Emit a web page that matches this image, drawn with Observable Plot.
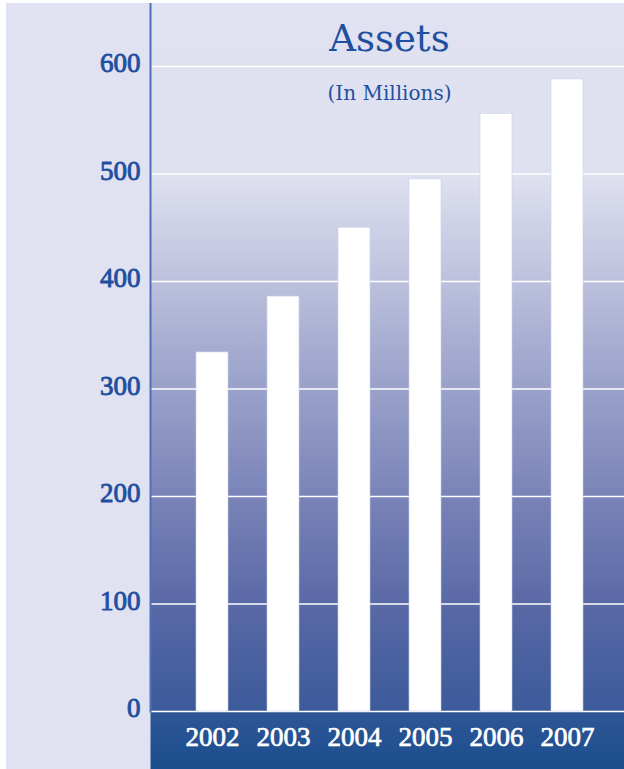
<!DOCTYPE html>
<html><head><meta charset="utf-8">
<script src="https://cdn.jsdelivr.net/npm/d3@7"></script>
<script src="https://cdn.jsdelivr.net/npm/@observablehq/plot@0.6"></script>
<style>
html,body{margin:0;padding:0;background:#fff;}
#chart{position:absolute;left:6px;top:3px;width:618px;height:766px;background:#e0e2f1;overflow:hidden;}
</style></head><body><div id="chart"></div>
<script>
const years = ["2002", "2003", "2004", "2005", "2006", "2007"];
const assets = [334, 386, 450, 495, 556, 588];
const yTicks = [0, 100, 200, 300, 400, 500, 600];
const title = "Assets";
const subtitle = "(In Millions)";

const data = years.map((y, i) => ({year: y, value: assets[i]}));
const blue = "#1f4fa0";

const plot = Plot.plot({
  width: 618, height: 766,
  marginLeft: 144, marginRight: 0, marginTop: 0, marginBottom: 58,
  style: {background: "transparent", overflow: "visible"},
  x: {domain: years, range: [188, 578], paddingInner: 0.553, paddingOuter: 0, axis: null},
  y: {domain: [0, 600], range: [708, 63], axis: null},
  marks: [
    Plot.frame({fill: "url(#bgGrad)", stroke: null, insetBottom: -58}),
    Plot.gridY(yTicks, {stroke: "white", strokeOpacity: 1, strokeWidth: 1.5}),
    Plot.barY(data, {x: "year", y: "value", fill: "white", stroke: "#c9d0ea", strokeWidth: 0.6}),
    Plot.frame({anchor: "left", stroke: "#4a70bf", strokeWidth: 2}),
    Plot.text(yTicks, {y: d => d, text: d => String(d), frameAnchor: "left", dx: -10, dy: -3,
      textAnchor: "end", fill: blue, stroke: blue, strokeWidth: 0.9, fontSize: 27, fontFamily: "Liberation Serif", letterSpacing: -0.5}),
    Plot.text(data, {x: "year", text: "year", frameAnchor: "bottom", dy: 26, lineAnchor: "middle",
      fill: "white", stroke: "white", strokeWidth: 0.7, fontSize: 27, fontFamily: "Liberation Serif", letterSpacing: -0.5}),
    Plot.text([title], {frameAnchor: "top", dx: 2, dy: 47, lineAnchor: "bottom",
      fill: blue, fontSize: 37, fontFamily: "DejaVu Serif", letterSpacing: 2}),
    Plot.text([subtitle], {frameAnchor: "top", dx: 2, dy: 96, lineAnchor: "bottom",
      fill: blue, fontSize: 20, fontFamily: "DejaVu Serif", letterSpacing: 1.5})
  ]
});

const svg = d3.select(plot);
const defs = svg.insert("defs", ":first-child");
const g = defs.append("linearGradient").attr("id", "bgGrad")
  .attr("x1", 0).attr("y1", 0).attr("x2", 0).attr("y2", 1);
[
  [0, "#e0e2f1"], [0.2245, "#dfe1f0"], [0.45, "#a6acd0"], [0.65, "#7882b7"],
  [0.79, "#5868a5"], [0.9243, "#3c5a9a"], [0.9243, "#2e5696"], [1, "#1b4e8e"]
].forEach(([o, c]) => g.append("stop").attr("offset", o).attr("stop-color", c));

document.getElementById("chart").appendChild(plot);
</script>
</body></html>
